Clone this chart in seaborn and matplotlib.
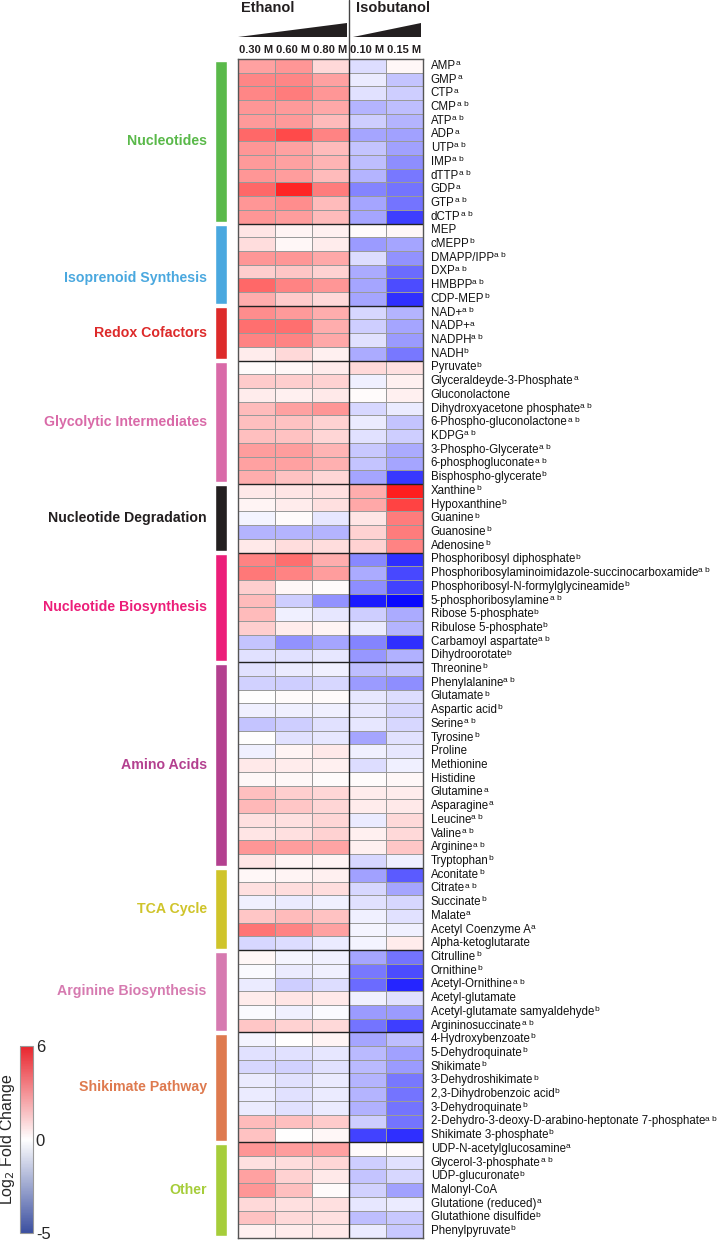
import numpy as np
import pandas as pd
import seaborn as sns
import matplotlib
matplotlib.use("Agg")
import matplotlib.pyplot as plt
from matplotlib.colors import LinearSegmentedColormap, TwoSlopeNorm
from matplotlib.cm import ScalarMappable
from matplotlib.patches import Polygon

# ---------------- data ----------------
conditions = ["0.30 M", "0.60 M", "0.80 M", "0.10 M", "0.15 M"]
solvents = ["Ethanol", "Isobutanol"]
solvent_ncols = [3, 2]

groups = ["Nucleotides", "Isoprenoid Synthesis", "Redox Cofactors", "Glycolytic Intermediates",
          "Nucleotide Degradation", "Nucleotide Biosynthesis", "Amino Acids", "TCA Cycle",
          "Arginine Biosynthesis", "Shikimate Pathway", "Other"]
group_sizes = [12, 6, 4, 9, 5, 8, 15, 6, 6, 8, 7]
group_colors = ["#5ab94a", "#4aa8df", "#dd2a2a", "#d96aa8", "#231f20", "#ec1e79",
                "#b3408f", "#cfc42a", "#d67ab0", "#de7a4f", "#a6cd3a"]
group_label_shift = [0, 1, 0, 0, 0, 0, 0, 0, 0, 0, 0]

metabolites = [
    "AMP", "GMP", "CTP", "CMP", "ATP", "ADP", "UTP", "IMP", "dTTP", "GDP", "GTP", "dCTP",
    "MEP", "cMEPP", "DMAPP/IPP", "DXP", "HMBPP", "CDP-MEP",
    "NAD+", "NADP+", "NADPH", "NADH",
    "Pyruvate", "Glyceraldeyde-3-Phosphate", "Gluconolactone", "Dihydroxyacetone phosphate",
    "6-Phospho-gluconolactone", "KDPG", "3-Phospho-Glycerate", "6-phosphogluconate", "Bisphospho-glycerate",
    "Xanthine", "Hypoxanthine", "Guanine", "Guanosine", "Adenosine",
    "Phosphoribosyl diphosphate", "Phosphoribosylaminoimidazole-succinocarboxamide",
    "Phosphoribosyl-N-formylglycineamide", "5-phosphoribosylamine", "Ribose 5-phosphate",
    "Ribulose 5-phosphate", "Carbamoyl aspartate", "Dihydroorotate",
    "Threonine", "Phenylalanine", "Glutamate", "Aspartic acid", "Serine", "Tyrosine", "Proline",
    "Methionine", "Histidine", "Glutamine", "Asparagine", "Leucine", "Valine", "Arginine", "Tryptophan",
    "Aconitate", "Citrate", "Succinate", "Malate", "Acetyl Coenzyme A", "Alpha-ketoglutarate",
    "Citrulline", "Ornithine", "Acetyl-Ornithine", "Acetyl-glutamate", "Acetyl-glutamate samyaldehyde",
    "Argininosuccinate",
    "4-Hydroxybenzoate", "5-Dehydroquinate", "Shikimate", "3-Dehydroshikimate", "2,3-Dihydrobenzoic acid",
    "3-Dehydroquinate", "2-Dehydro-3-deoxy-D-arabino-heptonate 7-phosphate", "Shikimate 3-phosphate",
    "UDP-N-acetylglucosamine", "Glycerol-3-phosphate", "UDP-glucuronate", "Malonyl-CoA",
    "Glutatione (reduced)", "Glutathione disulfide", "Phenylpyruvate",
]
superscripts = [
    "a", "a", "a", "a b", "a b", "a", "a b", "a b", "a b", "a", "a b", "a b",
    "", "b", "a b", "a b", "a b", "b",
    "a b", "a", "a b", "b",
    "b", "a", "", "a b", "a b", "a b", "a b", "a b", "b",
    "b", "b", "b", "b", "b",
    "b", "a b", "b", "a b", "b", "b", "a b", "b",
    "b", "a b", "b", "b", "a b", "b", "", "", "", "a", "a", "a b", "a b", "a b", "b",
    "b", "a b", "b", "a", "a", "",
    "b", "b", "a b", "", "b", "a b",
    "b", "b", "b", "b", "b", "b", "a b", "b",
    "a", "a b", "b", "", "a", "b", "b",
]

ethanol_030 = [2.5, 3.2, 3.2, 2.8, 2.7, 4.0, 2.8, 2.7, 2.8, 4.0, 2.8, 2.8,
               0.7, 0.9, 2.8, 1.3, 4.0, 2.2,
               3.0, 3.8, 3.3, 0.5,
               0.1, 1.4, 0.5, 1.8, 1.7, 1.7, 2.6, 2.5, 2.2,
               0.6, 0.3, -0.2, -1.5, 0.6,
               3.3, 3.6, 1.3, 1.8, 1.8, 1.3, -1.2, -0.6,
               -0.6, -0.9, 0.0, -0.3, -1.2, 0.0, -0.3, 0.6, 0.2, 1.7, 1.9, 0.8, 0.7, 2.8, 0.7,
               0.2, 0.8, -0.3, 1.5, 3.7, -0.8,
               0.2, -0.1, -0.4, 0.5, -0.1, 1.5,
               -0.2, -0.6, -0.8, -0.4, -0.4, -0.4, 1.8, 1.6,
               2.8, 0.8, 2.5, 2.8, 1.0, 1.6, 0.4]
ethanol_060 = [2.8, 3.2, 3.5, 2.7, 2.7, 4.8, 2.5, 2.5, 2.6, 5.8, 3.0, 2.6,
               0.3, 0.2, 2.8, 1.5, 3.3, 1.4,
               2.7, 3.8, 3.3, 1.0,
               0.2, 1.3, 0.4, 2.5, 1.6, 1.6, 2.6, 2.5, 1.6,
               0.7, 0.5, 0.1, -1.5, 0.9,
               3.8, 3.3, 0.2, -1.0, -0.3, 0.5, -2.2, -0.6,
               -0.4, -1.0, 0.1, -0.3, -1.0, -0.6, 0.3, 0.5, 0.2, 1.3, 1.5, 0.8, 0.8, 2.6, 0.3,
               0.3, 0.9, -0.4, 1.8, 3.3, -0.7,
               -0.2, -0.4, -1.0, 0.7, -0.3, 1.2,
               0.0, -0.6, -0.9, -0.6, -0.6, -0.6, 1.7, 0.0,
               2.6, 0.9, 1.2, 1.7, 0.8, 1.0, 0.5]
ethanol_080 = [1.0, 2.5, 2.8, 2.3, 1.8, 3.3, 1.8, 2.0, 1.8, 3.5, 1.8, 1.8,
               0.4, 0.5, 2.3, 1.2, 2.8, 1.0,
               2.2, 2.2, 2.3, 0.4,
               0.5, 1.2, 0.6, 2.8, 1.2, 1.1, 2.0, 2.1, 1.1,
               0.8, 0.8, -0.5, -1.5, 0.9,
               2.2, 2.6, 0.1, -2.2, -0.5, 0.3, -1.8, -0.5,
               -0.3, -0.8, 0.1, -0.3, -0.6, -0.5, 0.6, 0.4, 0.1, 1.1, 1.1, 1.1, 1.2, 2.4, 0.3,
               0.4, 0.9, -0.3, 1.6, 2.5, -0.4,
               -0.3, -0.3, -0.7, 0.6, -0.1, 1.0,
               0.3, -0.5, -0.6, -0.4, -0.4, -0.4, 1.4, 0.2,
               2.5, 1.1, 0.6, 0.1, 0.8, 0.8, 0.6]
isobutanol_010 = [-0.7, -0.4, -0.6, -1.5, -1.0, -1.8, -1.2, -1.3, -1.5, -2.5, -1.8, -1.8,
                  0.1, -2.0, -0.7, -1.7, -1.8, -1.8,
                  -0.8, -1.0, -0.6, -1.7,
                  1.0, -0.3, 0.1, -0.8, -0.4, -0.6, -1.1, -1.2, -1.8,
                  2.2, 2.3, 0.7, 1.2, 1.2,
                  -2.4, -1.7, -2.3, -4.6, -1.0, -0.4, -2.5, -2.1,
                  -1.3, -2.0, -0.5, -0.5, -0.5, -1.8, -0.3, -0.7, 0.1, 0.5, 0.5, -0.4, 0.4, 0.4, -0.8,
                  -1.9, -0.8, -0.6, -0.3, -0.2, -0.2,
                  -1.8, -2.7, -3.0, -0.3, -2.0, -2.8,
                  -1.8, -1.4, -1.4, -1.5, -1.5, -1.6, -1.0, -3.8,
                  0.1, -1.0, -1.2, -0.9, -0.5, -1.3, -0.4]
isobutanol_015 = [0.2, -1.2, -1.0, -1.3, -1.5, -1.9, -1.9, -2.3, -2.7, -2.8, -2.8, -3.9,
                  0.2, -1.8, -2.2, -3.0, -3.6, -4.2,
                  -1.5, -1.8, -2.0, -2.7,
                  0.8, 0.4, 0.4, -0.4, -1.2, -1.0, -1.7, -1.8, -4.0,
                  6.0, 5.0, 3.5, 3.5, 3.3,
                  -4.2, -3.7, -3.8, -5.0, -1.7, -1.5, -4.2, -1.6,
                  -1.2, -2.3, -0.7, -0.8, -0.8, -0.6, -0.5, -0.3, 0.2, 0.5, 0.6, 1.0, 1.0, 1.5, -0.3,
                  -3.3, -1.8, -0.8, -0.6, -0.3, 0.5,
                  -2.8, -3.6, -4.4, -0.6, -2.0, -3.9,
                  -1.3, -1.9, -2.0, -2.7, -2.8, -2.8, -2.8, -4.2,
                  0.1, -0.6, -0.8, -1.9, -0.4, -1.1, -1.1]

cbar_ticks = [-5, 0, 6]

# ---------------- build ----------------
df = pd.DataFrame({c: v for c, v in zip(conditions, [ethanol_030, ethanol_060, ethanol_080,
                                                     isobutanol_010, isobutanol_015])},
                  index=metabolites)
n_rows = len(df)

sns.set_style("white")
plt.rcParams["font.family"] = ["Liberation Sans", "DejaVu Sans"]
plt.rcParams["axes.unicode_minus"] = False

W, H = 725, 1241
fig = plt.figure(figsize=(W / 100, H / 100), dpi=100)


def fx(px):
    return px / W


def fy(py):
    return 1 - py / H


hm_left, hm_right, hm_top, hm_bottom = 238, 423, 59, 1238
norm = TwoSlopeNorm(vmin=-5, vcenter=0, vmax=6)
heat_cmap = LinearSegmentedColormap.from_list("heat", ["#0808ff", "#ffffff", "#ff1e1e"])
bar_cmap = LinearSegmentedColormap.from_list("bar", ["#3b4fa0", "#ffffff", "#e8252d"])

ax = fig.add_axes([fx(hm_left), fy(hm_bottom), fx(hm_right - hm_left), (hm_bottom - hm_top) / H])
sns.heatmap(df, ax=ax, cmap=heat_cmap, norm=norm, cbar=False,
            linewidths=0.7, linecolor="#9a9a9a", xticklabels=True, yticklabels=False)
ax.set_yticks([])
ax.set_ylabel("")
ax.xaxis.tick_top()
ax.tick_params(axis="x", length=0, pad=3, labelsize=8, rotation=0)
for t in ax.get_xticklabels():
    t.set_fontweight("bold")
    t.set_color("#231f20")

# row labels with superscripts
for i, (name, sup) in enumerate(zip(metabolites, superscripts)):
    lab = ax.annotate(name, xy=(1, i + 0.5), xycoords=("axes fraction", "data"),
                      xytext=(5.5, 0), textcoords="offset points", ha="left", va="center",
                      fontsize=8.3, color="#111111")
    if sup:
        ax.annotate(sup, xy=(1, 1), xycoords=lab, xytext=(0.2, -0.2),
                    textcoords="offset points", ha="left", va="top",
                    fontsize=6.0, color="#111111")

bounds = np.cumsum(group_sizes)
ax.hlines(bounds[:-1], 0, len(conditions), colors="#222222", linewidth=1.0)
ax.axvline(solvent_ncols[0], color="#222222", linewidth=1.0)
for sp in ax.spines.values():
    sp.set_visible(True)
    sp.set_color("#555555")
    sp.set_linewidth(1.0)

# group bars
axg = fig.add_axes([fx(215), fy(hm_bottom), fx(12), (hm_bottom - hm_top) / H])
starts = np.concatenate([[0], bounds[:-1]])
centers = starts + np.array(group_sizes) / 2
axg.barh(centers, 1, height=np.array(group_sizes) - 0.22, left=0, color=group_colors)
axg.set_ylim(n_rows, 0)
axg.set_xlim(0, 1)
axg.axis("off")
for g, c, col, sh in zip(groups, centers, group_colors, group_label_shift):
    axg.annotate(g, xy=(0, c + sh), xycoords=("axes fraction", "data"), xytext=(-6, 0),
                 textcoords="offset points", ha="right", va="center",
                 fontsize=10.2, fontweight="bold", color=col)

# header
axh = fig.add_axes([fx(hm_left), fy(hm_top), fx(hm_right - hm_left), hm_top / H])
axh.set_xlim(0, len(conditions))
axh.set_ylim(hm_top, 0)
axh.axis("off")
x0 = 0
for name, n in zip(solvents, solvent_ncols):
    gap = 0.12 if x0 > 0 else 0.0
    axh.add_patch(Polygon([[x0 + gap, 37], [x0 + n - 0.06, 37], [x0 + n - 0.06, 22.5]],
                          closed=True, color="#231f20", lw=0))
    axh.text(x0 + gap + 0.08, 8, name, ha="left", va="center", fontsize=10.5,
             fontweight="bold", color="#231f20")
    x0 += n
axh.plot([solvent_ncols[0], solvent_ncols[0]], [0, hm_top], color="#444444", lw=1.0,
         clip_on=False)

# colorbar
cax = fig.add_axes([fx(20), fy(1233), fx(13), 187 / H])
cb = fig.colorbar(ScalarMappable(norm=norm, cmap=bar_cmap), cax=cax, ticks=cbar_ticks)
cb.outline.set_edgecolor("#999999")
cb.outline.set_linewidth(0.8)
cax.tick_params(length=0, labelsize=12, pad=2)
cax.set_yticklabels([str(t) for t in cbar_ticks])
cax.yaxis.set_label_position("left")
cax.set_ylabel("Log$_{2}$ Fold Change", fontsize=11.5, labelpad=2)

fig.savefig("out.png", dpi=100)
